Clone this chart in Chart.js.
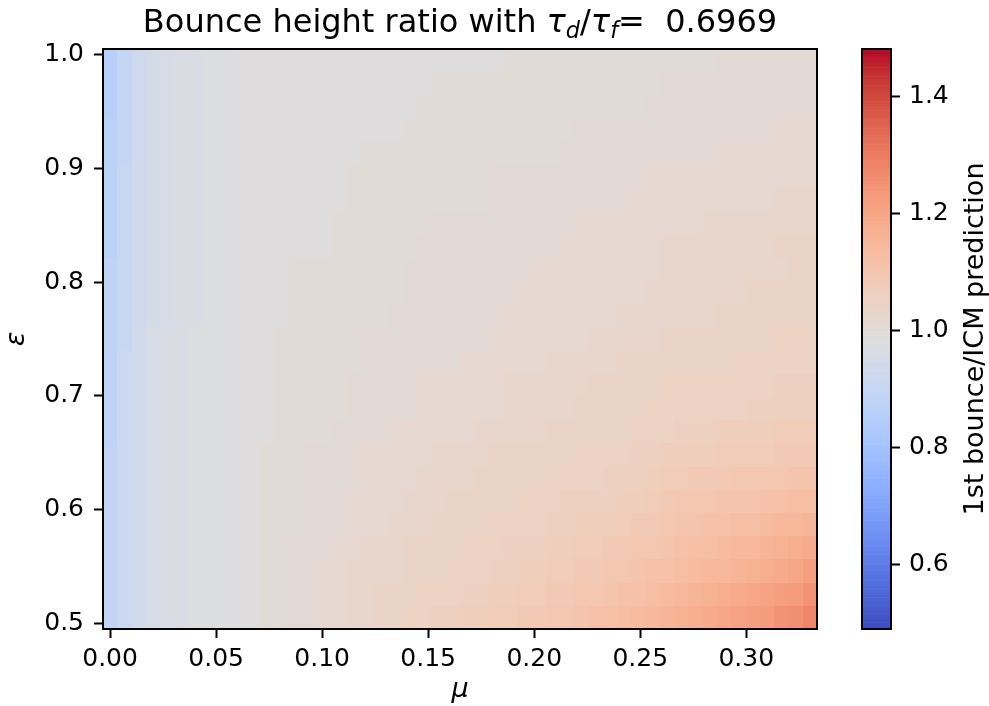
<!DOCTYPE html>
<html>
<head>
<meta charset="utf-8">
<script src="https://cdn.jsdelivr.net/npm/chart.js@4.4.1/dist/chart.umd.min.js"></script>
<style>
  html, body { margin: 0; padding: 0; background: #fff; }
  #wrap { position: relative; width: 989px; height: 706px; font-family: 'DejaVu Sans', sans-serif; color: #000; }
  #main { position: absolute; left: 0; top: 0; }
  #cbar { position: absolute; left: 840px; top: 0; }
  #title { position: absolute; left: 103px; width: 714px; top: 2px; text-align: center; font-size: 32px; line-height: 38px; white-space: nowrap; }
  #title sub { font-size: 0.7em; vertical-align: -0.25em; line-height: 0; }
  #cblabel { position: absolute; left: 774px; top: 323px; width: 400px; text-align: center; font-size: 27px; line-height: 32px; transform: rotate(-90deg); white-space: nowrap; }
</style>
</head>
<body>
<div id="wrap">
  <canvas id="main" width="840" height="706"></canvas>
  <canvas id="cbar" width="149" height="706"></canvas>
  <div id="title">Bounce height ratio with <i>τ</i><sub><i>d</i></sub>/<i>τ</i><sub><i>f</i></sub>= &nbsp;0.6969</div>
  <div id="cblabel">1st bounce/ICM prediction</div>
</div>
<script>
// friction coefficient (columns)
const mu = [0.0000, 0.0067, 0.0135, 0.0202, 0.0269, 0.0337, 0.0404, 0.0471, 0.0539, 0.0606,
            0.0673, 0.0741, 0.0808, 0.0876, 0.0943, 0.1010, 0.1078, 0.1145, 0.1212, 0.1280,
            0.1347, 0.1414, 0.1482, 0.1549, 0.1616, 0.1684, 0.1751, 0.1818, 0.1886, 0.1953,
            0.2020, 0.2088, 0.2155, 0.2222, 0.2290, 0.2357, 0.2424, 0.2492, 0.2559, 0.2627,
            0.2694, 0.2761, 0.2829, 0.2896, 0.2963, 0.3031, 0.3098, 0.3165, 0.3233, 0.3300];

// restitution coefficient (rows, bottom to top)
const eps = [0.5051, 0.5255, 0.5459, 0.5663, 0.5867, 0.6071, 0.6276, 0.6480, 0.6684, 0.6888,
             0.7092, 0.7296, 0.7500, 0.7704, 0.7908, 0.8112, 0.8316, 0.8520, 0.8724, 0.8929,
             0.9133, 0.9337, 0.9541, 0.9745, 0.9949];

// 1st bounce / ICM prediction, one row per eps value
const ratio = [
  [0.89,0.92,0.94,0.96,0.97,0.97,0.98,0.98,0.98, 0.99,0.99,1.00,1.00,1.01,1.01,1.02, 1.02,1.03,1.03,1.04, 1.04,1.05,1.05,1.06,1.06,1.07, 1.07,1.08,1.08,1.09,1.09, 1.10,1.10,1.11,1.12,1.12,1.13, 1.14,1.15,1.16,1.17, 1.18,1.19,1.20,1.21,1.22, 1.23,1.25,1.26,1.28],
  [0.89,0.92,0.94,0.96,0.97,0.97,0.98,0.98,0.98, 0.99,0.99,1.00,1.00,1.01,1.01,1.02, 1.02,1.03,1.03,1.04, 1.04,1.04,1.05,1.05,1.05,1.06, 1.06,1.07,1.07,1.08,1.08, 1.09,1.09,1.10,1.10,1.11,1.12, 1.12,1.13,1.14,1.15, 1.16,1.17,1.18,1.19,1.20, 1.21,1.22,1.23,1.25],
  [0.89,0.92,0.94,0.96,0.97,0.97,0.98,0.98,0.98, 0.99,0.99,1.00,1.00,1.01,1.01,1.02, 1.02,1.03,1.03,1.03, 1.03,1.04,1.04,1.04,1.05,1.05, 1.05,1.06,1.06,1.07,1.07, 1.08,1.08,1.09,1.09,1.10,1.10, 1.11,1.12,1.12,1.13, 1.14,1.15,1.15,1.16,1.17, 1.18,1.19,1.20,1.22],
  [0.89,0.92,0.94,0.96,0.97,0.97,0.98,0.98,0.98, 0.99,0.99,1.00,1.00,1.01,1.01,1.01, 1.02,1.02,1.03,1.03, 1.03,1.04,1.04,1.04,1.04,1.05, 1.05,1.05,1.06,1.06,1.06, 1.07,1.07,1.08,1.08,1.09,1.09, 1.10,1.10,1.11,1.12, 1.13,1.13,1.14,1.15,1.15, 1.16,1.17,1.18,1.19],
  [0.89,0.92,0.94,0.96,0.97,0.97,0.98,0.98,0.98, 0.99,0.99,1.00,1.00,1.00,1.01,1.01, 1.01,1.02,1.02,1.02, 1.03,1.03,1.03,1.04,1.04,1.04, 1.04,1.05,1.05,1.05,1.05, 1.06,1.06,1.07,1.07,1.07,1.08, 1.09,1.09,1.10,1.11, 1.11,1.12,1.12,1.13,1.13, 1.14,1.15,1.15,1.16],
  [0.89,0.92,0.94,0.96,0.97,0.97,0.98,0.98,0.98, 0.99,0.99,1.00,1.00,1.00,1.01,1.01, 1.01,1.02,1.02,1.02, 1.02,1.03,1.03,1.03,1.04,1.04, 1.04,1.04,1.04,1.05,1.05, 1.05,1.06,1.06,1.06,1.06,1.07, 1.07,1.08,1.09,1.10, 1.10,1.10,1.11,1.11,1.11, 1.12,1.12,1.13,1.13],
  [0.89,0.92,0.94,0.96,0.97,0.97,0.98,0.98,0.98, 0.99,0.99,1.00,1.00,1.00,1.01,1.01, 1.01,1.01,1.02,1.02, 1.02,1.02,1.03,1.03,1.03,1.03, 1.04,1.04,1.04,1.04,1.04, 1.05,1.05,1.05,1.05,1.06,1.06, 1.06,1.07,1.08,1.08, 1.09,1.09,1.09,1.10,1.10, 1.10,1.10,1.11,1.11],
  [0.89,0.92,0.94,0.96,0.97,0.97,0.98,0.98,0.98, 0.99,0.99,1.00,1.00,1.00,1.01,1.01, 1.01,1.01,1.02,1.02, 1.02,1.02,1.02,1.03,1.03,1.03, 1.03,1.04,1.04,1.04,1.04, 1.04,1.04,1.05,1.05,1.05,1.05, 1.06,1.06,1.07,1.07, 1.07,1.07,1.08,1.08,1.08, 1.08,1.09,1.09,1.09],
  [0.88,0.92,0.94,0.96,0.97,0.97,0.98,0.98,0.98, 0.99,0.99,0.99,1.00,1.00,1.00,1.00, 1.01,1.01,1.01,1.01, 1.02,1.02,1.02,1.02,1.02,1.02, 1.03,1.03,1.03,1.03,1.03, 1.04,1.04,1.04,1.04,1.04,1.04, 1.05,1.05,1.05,1.06, 1.06,1.06,1.07,1.07,1.07, 1.07,1.08,1.08,1.08],
  [0.88,0.92,0.94,0.96,0.97,0.97,0.98,0.98,0.98, 0.99,0.99,0.99,1.00,1.00,1.00,1.00, 1.00,1.01,1.01,1.01, 1.01,1.01,1.02,1.02,1.02,1.02, 1.02,1.02,1.03,1.03,1.03, 1.03,1.03,1.04,1.04,1.04,1.04, 1.04,1.05,1.05,1.05, 1.05,1.05,1.05,1.05,1.06, 1.06,1.06,1.06,1.06],
  [0.88,0.92,0.94,0.96,0.97,0.97,0.98,0.98,0.98, 0.99,0.99,0.99,1.00,1.00,1.00,1.00, 1.00,1.01,1.01,1.01, 1.01,1.01,1.02,1.02,1.02,1.02, 1.02,1.02,1.03,1.03,1.03, 1.03,1.03,1.03,1.04,1.04,1.04, 1.04,1.04,1.05,1.05, 1.05,1.05,1.05,1.05,1.05, 1.05,1.06,1.06,1.06],
  [0.88,0.92,0.94,0.96,0.97,0.97,0.98,0.98,0.98, 0.99,0.99,0.99,1.00,1.00,1.00,1.00, 1.00,1.00,1.01,1.01, 1.01,1.01,1.01,1.01,1.01,1.02, 1.02,1.02,1.02,1.02,1.02, 1.03,1.03,1.03,1.03,1.03,1.04, 1.04,1.04,1.04,1.04, 1.04,1.04,1.04,1.05,1.05, 1.05,1.05,1.05,1.05],
  [0.88,0.91,0.94,0.96,0.97,0.97,0.98,0.98,0.98, 0.99,0.99,0.99,1.00,1.00,1.00,1.00, 1.00,1.00,1.01,1.01, 1.01,1.01,1.01,1.01,1.01,1.01, 1.01,1.02,1.02,1.02,1.02, 1.02,1.02,1.02,1.03,1.03,1.03, 1.03,1.03,1.04,1.04, 1.04,1.04,1.04,1.04,1.04, 1.04,1.05,1.05,1.05],
  [0.88,0.91,0.93,0.95,0.96,0.97,0.97,0.98,0.98, 0.99,0.99,0.99,0.99,1.00,1.00,1.00, 1.00,1.00,1.00,1.00, 1.01,1.01,1.01,1.01,1.01,1.01, 1.01,1.01,1.02,1.02,1.02, 1.02,1.02,1.02,1.02,1.02,1.03, 1.03,1.03,1.03,1.03, 1.03,1.03,1.04,1.04,1.04, 1.04,1.04,1.04,1.04],
  [0.88,0.91,0.93,0.95,0.96,0.97,0.97,0.98,0.98, 0.99,0.99,0.99,0.99,1.00,1.00,1.00, 1.00,1.00,1.00,1.00, 1.00,1.01,1.01,1.01,1.01,1.01, 1.01,1.01,1.01,1.02,1.02, 1.02,1.02,1.02,1.02,1.02,1.02, 1.02,1.03,1.03,1.03, 1.03,1.03,1.03,1.03,1.04, 1.04,1.04,1.04,1.04],
  [0.88,0.91,0.93,0.95,0.96,0.97,0.97,0.98,0.98, 0.99,0.99,0.99,0.99,1.00,1.00,1.00, 1.00,1.00,1.00,1.00, 1.00,1.01,1.01,1.01,1.01,1.01, 1.01,1.01,1.01,1.01,1.02, 1.02,1.02,1.02,1.02,1.02,1.02, 1.02,1.02,1.03,1.03, 1.03,1.03,1.03,1.03,1.03, 1.03,1.03,1.04,1.04],
  [0.87,0.91,0.93,0.95,0.96,0.97,0.97,0.98,0.98, 0.99,0.99,0.99,0.99,0.99,0.99,0.99, 1.00,1.00,1.00,1.00, 1.00,1.00,1.01,1.01,1.01,1.01, 1.01,1.01,1.01,1.01,1.01, 1.01,1.02,1.02,1.02,1.02,1.02, 1.02,1.02,1.03,1.03, 1.03,1.03,1.03,1.03,1.03, 1.03,1.04,1.04,1.04],
  [0.87,0.91,0.93,0.95,0.96,0.97,0.97,0.98,0.98, 0.99,0.99,0.99,0.99,0.99,0.99,0.99, 1.00,1.00,1.00,1.00, 1.00,1.00,1.00,1.01,1.01,1.01, 1.01,1.01,1.01,1.01,1.01, 1.01,1.01,1.02,1.02,1.02,1.02, 1.02,1.02,1.02,1.02, 1.02,1.03,1.03,1.03,1.03, 1.03,1.03,1.03,1.03],
  [0.87,0.91,0.93,0.95,0.96,0.97,0.97,0.98,0.98, 0.99,0.99,0.99,0.99,0.99,0.99,0.99, 0.99,1.00,1.00,1.00, 1.00,1.00,1.00,1.00,1.00,1.00, 1.00,1.01,1.01,1.01,1.01, 1.01,1.01,1.01,1.01,1.01,1.01, 1.02,1.02,1.02,1.02, 1.02,1.02,1.02,1.02,1.02, 1.02,1.03,1.03,1.03],
  [0.87,0.91,0.93,0.95,0.96,0.97,0.97,0.98,0.98, 0.99,0.99,0.99,0.99,0.99,0.99,0.99, 0.99,1.00,1.00,1.00, 1.00,1.00,1.00,1.00,1.00,1.00, 1.00,1.01,1.01,1.01,1.01, 1.01,1.01,1.01,1.01,1.01,1.01, 1.01,1.02,1.02,1.02, 1.02,1.02,1.02,1.02,1.02, 1.02,1.02,1.02,1.02],
  [0.87,0.90,0.93,0.95,0.96,0.97,0.97,0.98,0.98, 0.99,0.99,0.99,0.99,0.99,0.99,0.99, 0.99,0.99,1.00,1.00, 1.00,1.00,1.00,1.00,1.00,1.00, 1.00,1.00,1.00,1.00,1.00, 1.00,1.01,1.01,1.01,1.01,1.01, 1.01,1.01,1.01,1.01, 1.01,1.01,1.02,1.02,1.02, 1.02,1.02,1.02,1.02],
  [0.87,0.90,0.93,0.95,0.96,0.97,0.97,0.98,0.98, 0.99,0.99,0.99,0.99,0.99,0.99,0.99, 0.99,0.99,0.99,0.99, 0.99,1.00,1.00,1.00,1.00,1.00, 1.00,1.00,1.00,1.00,1.00, 1.00,1.00,1.01,1.01,1.01,1.01, 1.01,1.01,1.01,1.01, 1.01,1.01,1.01,1.01,1.01, 1.01,1.02,1.02,1.02],
  [0.86,0.90,0.93,0.95,0.96,0.97,0.97,0.98,0.98, 0.99,0.99,0.99,0.99,0.99,0.99,0.99, 0.99,0.99,0.99,0.99, 0.99,0.99,1.00,1.00,1.00,1.00, 1.00,1.00,1.00,1.00,1.00, 1.00,1.00,1.00,1.00,1.00,1.00, 1.00,1.01,1.01,1.01, 1.01,1.01,1.01,1.01,1.01, 1.01,1.01,1.01,1.01],
  [0.86,0.90,0.93,0.95,0.96,0.97,0.97,0.98,0.98, 0.99,0.99,0.99,0.99,0.99,0.99,0.99, 0.99,0.99,0.99,0.99, 0.99,0.99,0.99,1.00,1.00,1.00, 1.00,1.00,1.00,1.00,1.00, 1.00,1.00,1.00,1.00,1.00,1.00, 1.00,1.00,1.01,1.01, 1.01,1.01,1.01,1.01,1.01, 1.01,1.01,1.01,1.01],
  [0.86,0.90,0.93,0.95,0.96,0.97,0.97,0.98,0.98, 0.99,0.99,0.99,0.99,0.99,0.99,0.99, 0.99,0.99,0.99,0.99, 0.99,0.99,0.99,0.99,0.99,0.99, 0.99,0.99,1.00,1.00,1.00, 1.00,1.00,1.00,1.00,1.00,1.00, 1.00,1.00,1.00,1.00, 1.00,1.00,1.01,1.01,1.01, 1.01,1.01,1.01,1.01]
];

const xTicks = [0.00, 0.05, 0.10, 0.15, 0.20, 0.25, 0.30];
const yTicks = [0.5, 0.6, 0.7, 0.8, 0.9, 1.0];
const cbTicks = [0.6, 0.8, 1.0, 1.2, 1.4];
const cbMin = 0.4906;
const cbMax = 1.482;

// coolwarm colormap samples
const coolwarm = [
  [59,76,192],[68,90,204],[77,104,215],[87,117,225],[98,130,234],[108,142,241],[119,154,247],
  [130,165,251],[141,176,254],[152,185,255],[163,194,255],[174,201,253],[184,208,249],
  [194,213,244],[204,217,238],[213,219,230],[221,221,221],[229,216,209],[236,211,197],
  [241,204,184],[245,196,172],[247,187,159],[247,177,147],[247,166,134],[244,154,123],
  [241,141,111],[236,127,99],[229,112,89],[222,96,77],[213,80,66],[203,62,56],[192,40,47],[180,4,38]
];

function cmap(v) {
  let t = (v - cbMin) / (cbMax - cbMin);
  t = Math.min(1, Math.max(0, t));
  const p = t * (coolwarm.length - 1);
  const i = Math.min(Math.floor(p), coolwarm.length - 2);
  const f = p - i;
  const a = coolwarm[i], b = coolwarm[i + 1];
  return 'rgb(' + [0, 1, 2].map(k => Math.round(a[k] + (b[k] - a[k]) * f)).join(',') + ')';
}

// cell edges half way between centres
function edges(c) {
  const e = [c[0] - (c[1] - c[0]) / 2];
  for (let i = 0; i < c.length - 1; i++) e.push((c[i] + c[i + 1]) / 2);
  e.push(c[c.length - 1] + (c[c.length - 1] - c[c.length - 2]) / 2);
  return e;
}
const muEdges = edges(mu);
const epsEdges = edges(eps);

const cells = [];
ratio.forEach((row, r) => {
  row.forEach((v, j) => cells.push({ x: mu[j], y: eps[r], v: v, i: j, r: r }));
});

Chart.defaults.font.family = "'DejaVu Sans', sans-serif";
Chart.defaults.color = '#000';

const tickGrid = {
  display: true,
  drawOnChartArea: false,
  drawTicks: true,
  tickLength: 9,
  tickWidth: 2,
  tickColor: '#000'
};

const frame = {
  id: 'frame',
  afterDatasetsDraw(chart) {
    const { ctx, chartArea: a } = chart;
    ctx.save();
    ctx.strokeStyle = '#000';
    ctx.lineWidth = 2;
    ctx.strokeRect(a.left, a.top, a.right - a.left, a.bottom - a.top);
    ctx.restore();
  }
};

const heatmap = {
  id: 'heatmap',
  beforeDatasetsDraw(chart) {
    const { ctx, scales: { x, y } } = chart;
    ctx.save();
    chart.data.datasets[0].data.forEach(c => {
      const x0 = Math.round(x.getPixelForValue(muEdges[c.i]));
      const x1 = Math.round(x.getPixelForValue(muEdges[c.i + 1]));
      const y0 = Math.round(y.getPixelForValue(epsEdges[c.r]));
      const y1 = Math.round(y.getPixelForValue(epsEdges[c.r + 1]));
      ctx.fillStyle = cmap(c.v);
      ctx.fillRect(x0, y1, x1 - x0, y0 - y1);
    });
    ctx.restore();
  }
};

new Chart(document.getElementById('main'), {
  type: 'scatter',
  data: { datasets: [{ data: cells, pointRadius: 0, pointHoverRadius: 0 }] },
  options: {
    responsive: false,
    animation: false,
    events: [],
    layout: { padding: { top: 49, right: 23, left: 0, bottom: 0 } },
    plugins: { legend: { display: false }, tooltip: { enabled: false } },
    scales: {
      x: {
        type: 'linear',
        min: muEdges[0],
        max: muEdges[muEdges.length - 1],
        afterBuildTicks: s => { s.ticks = xTicks.map(v => ({ value: v })); },
        afterFit: s => { s.height = 77; },
        grid: tickGrid,
        border: { display: false },
        ticks: { font: { size: 25 }, padding: 6, maxRotation: 0, autoSkip: false, callback: v => v.toFixed(2) },
        title: { display: true, text: 'μ', font: { size: 27, style: 'italic' }, padding: { top: 0, bottom: 0 } }
      },
      y: {
        type: 'linear',
        min: epsEdges[0],
        max: epsEdges[epsEdges.length - 1],
        afterBuildTicks: s => { s.ticks = yTicks.map(v => ({ value: v })); },
        afterFit: s => { s.width = 103; },
        grid: tickGrid,
        border: { display: false },
        ticks: { font: { size: 25 }, padding: 10, autoSkip: false, callback: v => v.toFixed(1) },
        title: { display: true, text: 'ε', font: { size: 27, style: 'italic' }, padding: { top: 1, bottom: 0 } }
      }
    }
  },
  plugins: [heatmap, frame]
});

// colorbar
const colorbar = {
  id: 'colorbar',
  beforeDatasetsDraw(chart) {
    const { ctx, chartArea: a, scales: { y } } = chart;
    const n = 256;
    ctx.save();
    for (let k = 0; k < n; k++) {
      const v0 = cbMin + (cbMax - cbMin) * k / n;
      const v1 = cbMin + (cbMax - cbMin) * (k + 1) / n;
      const p0 = y.getPixelForValue(v0);
      const p1 = y.getPixelForValue(v1);
      ctx.fillStyle = cmap((v0 + v1) / 2);
      ctx.fillRect(a.left, p1, a.right - a.left, p0 - p1 + 0.6);
    }
    ctx.restore();
  }
};

new Chart(document.getElementById('cbar'), {
  type: 'scatter',
  data: { datasets: [{ data: [] }] },
  options: {
    responsive: false,
    animation: false,
    events: [],
    layout: { padding: { top: 49, right: 0, left: 22, bottom: 77 } },
    plugins: { legend: { display: false }, tooltip: { enabled: false } },
    scales: {
      x: { display: false, min: 0, max: 1 },
      y: {
        position: 'right',
        min: cbMin,
        max: cbMax,
        afterBuildTicks: s => { s.ticks = cbTicks.map(v => ({ value: v })); },
        afterFit: s => { s.width = 98; },
        grid: tickGrid,
        border: { display: false },
        ticks: { font: { size: 25 }, padding: 9, callback: v => v.toFixed(1) }
      }
    }
  },
  plugins: [colorbar, frame]
});
</script>
</body>
</html>
